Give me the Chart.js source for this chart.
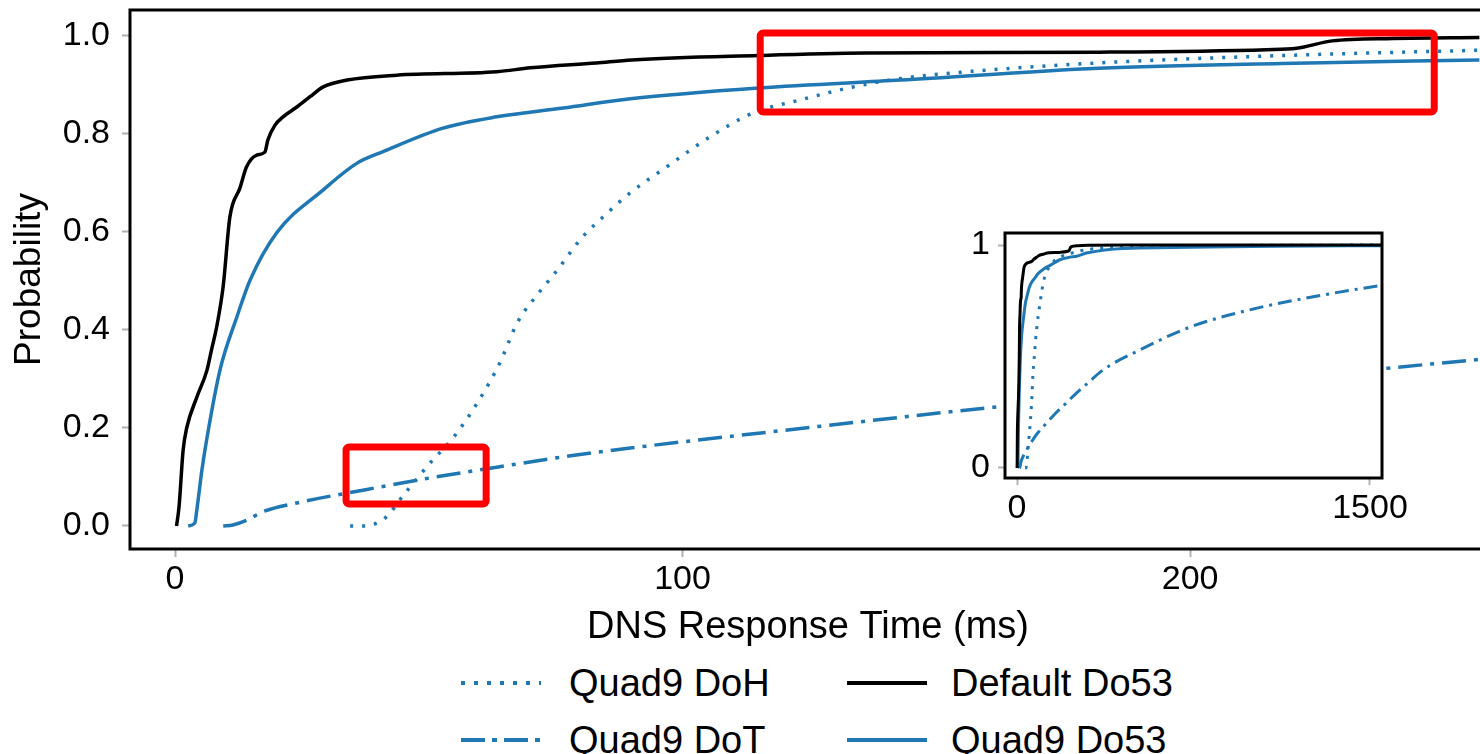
<!DOCTYPE html>
<html>
<head>
<meta charset="utf-8">
<title>DNS Response Time CDF</title>
<script src="https://cdn.jsdelivr.net/npm/chart.js@4.4.1/dist/chart.umd.min.js"></script>
<style>
  html, body { margin: 0; padding: 0; background: #fff; overflow: hidden; }
  #page { position: relative; width: 1480px; height: 754px; overflow: hidden;
          font-family: "Liberation Sans", Arial, Helvetica, sans-serif; color: #000; }
  #main { position: absolute; left: 0; top: 0; }
  #inset { position: absolute; left: 940px; top: 220px; }
  .leg { position: absolute; height: 40px; display: flex; align-items: center; font-size: 38px; white-space: nowrap; }
  .leg svg { display: block; }
</style>
</head>
<body>
<div id="page">
  <canvas id="main" width="1490" height="660"></canvas>
  <canvas id="inset" width="480" height="320"></canvas>

  <div class="leg" style="left:459px; top:663px;">
    <svg width="84" height="10"><line x1="2" y1="5" x2="82" y2="5" stroke="#1f77b4" stroke-width="4" stroke-dasharray="4 9"/></svg>
    <span style="margin-left:26px">Quad9 DoH</span>
  </div>
  <div class="leg" style="left:459px; top:720px;">
    <svg width="84" height="10"><line x1="2" y1="5" x2="82" y2="5" stroke="#1f77b4" stroke-width="4" stroke-dasharray="24 7 5 7"/></svg>
    <span style="margin-left:26px">Quad9 DoT</span>
  </div>
  <div class="leg" style="left:845px; top:663px;">
    <svg width="84" height="10"><line x1="2" y1="5" x2="82" y2="5" stroke="#000" stroke-width="4"/></svg>
    <span style="margin-left:22px">Default Do53</span>
  </div>
  <div class="leg" style="left:845px; top:720px;">
    <svg width="84" height="10"><line x1="2" y1="5" x2="82" y2="5" stroke="#1f77b4" stroke-width="4"/></svg>
    <span style="margin-left:22px">Quad9 Do53</span>
  </div>
</div>

<script>
// ---- data (ms, cumulative probability) ----
const defaultDo53X = [0.3, 0.8, 1.6, 2.3, 4.3, 6.3, 7.2, 8.2, 9.5, 10.8, 12.8, 14.1, 16.1, 17.7, 18.3, 19.7, 21.3, 24, 26.6, 29.2, 33.9, 43.7, 63.4, 70, 83, 90, 115, 136, 182, 215, 221, 228, 240, 257];
const defaultDo53Y = [0, 0.04, 0.155, 0.2, 0.263, 0.318, 0.36, 0.406, 0.49, 0.63, 0.69, 0.733, 0.757, 0.763, 0.788, 0.818, 0.835, 0.855, 0.876, 0.896, 0.91, 0.92, 0.927, 0.935, 0.945, 0.951, 0.96, 0.965, 0.967, 0.972, 0.975, 0.99, 0.995, 0.997];

const quad9Do53X = [2.6, 3.9, 4.3, 5.3, 6.3, 8.9, 12.2, 14.8, 20, 29.2, 35.8, 41, 52.8, 63.4, 76.5, 89.7, 115, 143, 182, 218, 257];
const quad9Do53Y = [0, 0.006, 0.033, 0.114, 0.18, 0.32, 0.427, 0.502, 0.598, 0.686, 0.74, 0.764, 0.812, 0.835, 0.853, 0.872, 0.894, 0.91, 0.934, 0.944, 0.951];

const quad9DoHX = [34.5, 37, 39.8, 41.8, 45, 47, 50.2, 54.8, 59.5, 64, 67.4, 72, 75.3, 79.8, 85.1, 89.7, 96.9, 105.4, 113.9, 123, 133.6, 142.9, 156, 182, 218, 257];
const quad9DoHY = [0, 0, 0.006, 0.02, 0.063, 0.088, 0.128, 0.18, 0.25, 0.333, 0.414, 0.48, 0.522, 0.584, 0.638, 0.68, 0.733, 0.794, 0.843, 0.869, 0.896, 0.913, 0.927, 0.945, 0.96, 0.971];

const quad9DoTX = [9.5, 11.4, 14.2, 17.3, 24, 37, 50.2, 63.4, 76.5, 89.7, 119, 160, 200, 239, 257];
const quad9DoTY = [0, 0.002, 0.012, 0.029, 0.047, 0.073, 0.098, 0.12, 0.141, 0.159, 0.194, 0.241, 0.282, 0.322, 0.34];

// long tails, only visible in the inset (0 - 1500 ms)
const defaultDo53TailX = [300, 500, 1550];
const defaultDo53TailY = [0.999, 1.0, 1.0];
const quad9Do53TailX = [300, 450, 735, 1100, 1550];
const quad9Do53TailY = [0.965, 0.985, 0.99, 0.995, 0.997];
const quad9DoHTailX = [300, 450, 800, 1550];
const quad9DoHTailY = [0.98, 0.99, 0.997, 1.0];
const quad9DoTTailX = [300, 366, 523, 735, 1020, 1301, 1550];
const quad9DoTTailY = [0.38, 0.44, 0.53, 0.632, 0.717, 0.776, 0.82];

const mainXTicks = [0, 100, 200];
const mainYTicks = [0, 0.2, 0.4, 0.6, 0.8, 1.0];
const insetXTicks = [0, 1500];
const insetYTicks = [0, 1];

// highlighted regions (data units of the main chart)
const highlightBoxes = [
  { x0: 115.3, x1: 248.1, y0: 0.845, y1: 1.006 },
  { x0: 33.7, x1: 61.3, y0: 0.045, y1: 0.161 }
];

const BLUE = "#1f77b4";
const FONT = '"Liberation Sans", Arial, Helvetica, sans-serif';
Chart.defaults.font.family = FONT;
Chart.defaults.color = "#000";

function pts(xs, ys) {
  return xs.map((x, i) => ({ x: x, y: ys[i] }));
}

function makeDatasets(width, dotDash, dashDot, tails) {
  const t = tails || {};
  return [
    { label: "Default Do53", data: pts(defaultDo53X.concat(t.dx || []), defaultDo53Y.concat(t.dy || [])),
      borderColor: "#000", borderWidth: width },
    { label: "Quad9 DoH", data: pts(quad9DoHX.concat(t.hx || []), quad9DoHY.concat(t.hy || [])),
      borderColor: BLUE, borderWidth: width, borderDash: dotDash },
    { label: "Quad9 DoT", data: pts(quad9DoTX.concat(t.tx || []), quad9DoTY.concat(t.ty || [])),
      borderColor: BLUE, borderWidth: width, borderDash: dashDot },
    { label: "Quad9 Do53", data: pts(quad9Do53X.concat(t.qx || []), quad9Do53Y.concat(t.qy || [])),
      borderColor: BLUE, borderWidth: width }
  ].map(d => Object.assign(d, { pointRadius: 0, fill: false, cubicInterpolationMode: "monotone" }));
}

const framePlugin = {
  id: "frame",
  beforeDraw(chart, args, opts) {
    if (!opts.fill) return;
    const a = chart.chartArea, ctx = chart.ctx;
    ctx.save();
    ctx.fillStyle = "#fff";
    ctx.fillRect(a.left, a.top, a.width, a.height);
    ctx.restore();
  },
  afterDatasetsDraw(chart, args, opts) {
    const a = chart.chartArea, ctx = chart.ctx;
    ctx.save();
    ctx.lineWidth = opts.width || 3;
    ctx.strokeStyle = "#000";
    ctx.strokeRect(a.left, a.top, a.width, a.height);
    ctx.restore();
  }
};

const highlightPlugin = {
  id: "highlight",
  afterDraw(chart) {
    const ctx = chart.ctx, xs = chart.scales.x, ys = chart.scales.y;
    ctx.save();
    ctx.strokeStyle = "#ff0000";
    ctx.lineWidth = 7;
    ctx.lineJoin = "round";
    highlightBoxes.forEach(b => {
      const l = xs.getPixelForValue(b.x0), r = xs.getPixelForValue(b.x1);
      const t = ys.getPixelForValue(b.y1), btm = ys.getPixelForValue(b.y0);
      ctx.beginPath();
      if (ctx.roundRect) ctx.roundRect(l, t, r - l, btm - t, 3); else ctx.rect(l, t, r - l, btm - t);
      ctx.stroke();
    });
    ctx.restore();
  }
};

function axis(opts) {
  return {
    type: "linear",
    min: opts.min,
    max: opts.max,
    afterBuildTicks: s => { s.ticks = opts.ticks.map(v => ({ value: v })); },
    afterFit: s => {
      if (opts.width != null) s.width = opts.width;
      if (opts.height != null) s.height = opts.height;
      // the tick labels never reach the plot corners, so no extra padding
      s.paddingTop = 0; s.paddingBottom = 0; s.paddingLeft = 0; s.paddingRight = 0;
    },
    grid: { drawOnChartArea: false, drawTicks: true, tickLength: opts.tickLength, tickColor: "#b0b0b0", tickWidth: 2 },
    border: { display: false },
    ticks: { font: { size: 34 }, color: "#000", padding: opts.pad, maxRotation: 0, autoSkip: false,
             callback: opts.fmt },
    title: opts.title || { display: false }
  };
}

// main chart
new Chart(document.getElementById("main"), {
  type: "line",
  data: { datasets: makeDatasets(3.5, [3, 9], [24, 8, 4, 8]) },
  options: {
    responsive: false,
    animation: false,
    layout: { padding: { top: 10, right: 4, left: 0, bottom: 0 } },
    plugins: { legend: { display: false }, tooltip: { enabled: false }, frame: { width: 3 } },
    scales: {
      x: axis({ min: -8.87, max: 258.3, ticks: mainXTicks, height: 111, tickLength: 8, pad: 2,
                fmt: v => String(v),
                title: { display: true, text: "DNS Response Time (ms)", font: { size: 38 }, color: "#000",
                         padding: { top: 0, bottom: 10 } } }),
      y: axis({ min: -0.047, max: 1.053, ticks: mainYTicks, width: 130, tickLength: 8, pad: 12,
                fmt: v => v.toFixed(1),
                title: { display: true, text: "Probability", font: { size: 37 }, color: "#000",
                         padding: { top: 8, bottom: 0 } } })
    }
  },
  plugins: [framePlugin, highlightPlugin]
});

// inset with the full range
new Chart(document.getElementById("inset"), {
  type: "line",
  data: { datasets: makeDatasets(3, [3, 7], [14, 6, 3, 6], {
    dx: defaultDo53TailX, dy: defaultDo53TailY,
    qx: quad9Do53TailX, qy: quad9Do53TailY,
    hx: quad9DoHTailX, hy: quad9DoHTailY,
    tx: quad9DoTTailX, ty: quad9DoTTailY
  }) },
  options: {
    responsive: false,
    animation: false,
    layout: { padding: { top: 13, right: 38, left: 0, bottom: 0 } },
    plugins: { legend: { display: false }, tooltip: { enabled: false }, frame: { width: 3, fill: true } },
    scales: {
      x: axis({ min: -51, max: 1551, ticks: insetXTicks, height: 62, tickLength: 7, pad: 3, fmt: v => String(v) }),
      y: axis({ min: -0.045, max: 1.054, ticks: insetYTicks, width: 65, tickLength: 7, pad: 8, fmt: v => String(v) })
    }
  },
  plugins: [framePlugin]
});
</script>
</body>
</html>
